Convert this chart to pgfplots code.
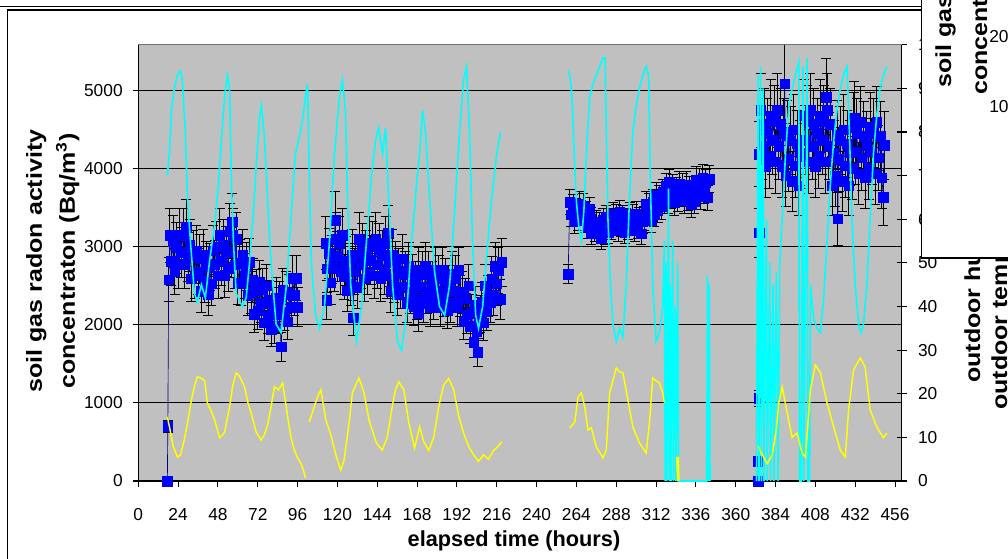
\documentclass[border=0pt]{standalone}
\usepackage{pgfplots}
\usepackage{pgfplotstable}
\pgfplotsset{compat=1.18}
\usepackage{fontspec}
\setmainfont{Liberation Sans}
\usepackage{graphicx}
\definecolor{plotgray}{RGB}{192,192,192}
\definecolor{rnblue}{RGB}{0,0,255}
\definecolor{rnnavy}{RGB}{0,0,128}
\definecolor{hcyan}{RGB}{0,255,255}
\definecolor{tyellow}{RGB}{255,255,0}
\pgfplotsset{
  rn/.style={rnnavy, line width=0.5pt, mark=square*, mark size=3.6pt,
    mark options={draw=rnblue, fill=rnblue, line width=0.3pt}},
  rnerr/.style={draw=none, no markers, forget plot, error bars/.cd, y dir=both, y fixed relative=#1,
    error bar style={black, line width=0.6pt},
    error mark=|,
    error mark options={black, line width=0.6pt, mark size=3.75pt}},
  hum/.style={hcyan, line width=1.2pt, no markers},
  tmp/.style={tyellow, line width=1.1pt, no markers},
}
\newcommand{\tickfont}{\fontsize{13}{15}\selectfont}
\newcommand{\labfont}{\fontsize{16.3}{19}\selectfont\bfseries}

\pgfplotstableread{
x y
17.5 0
17.8 700
18.3 2580
19 3150
20 2820
21 3070
22 2690
23 2990
24 2780
25 3150
26 2930
27 3150
28 2780
29 3250
30 2870
31 3020
32 2590
33 2890
34 2630
35 2950
36 2680
37 2850
38 2430
39 2900
40 2570
41 2770
42 2390
43 2740
44 2530
45 2950
46 2780
47 3000
48 2630
49 3150
50 2820
51 3020
52 2640
53 2940
54 2730
55 3200
56 2930
56.5 3320
57 3150
58 2770
59 3100
60 2540
61 2790
62 2530
63 2900
64 2630
65 2750
66 2380
67 2800
68 2420
69 2570
70 2140
71 2440
72 2180
73 2550
74 2280
75 2450
76 2030
77 2500
78 2120
79 2320
80 1940
81 2240
82 1980
83 2350
84 2130
85 2300
86 1720
87 2450
88 2170
89 2420
90 2040
91 2390
92 2230
93 2600
94 2380
95 2600
96 2230
}\rnA
\pgfplotstableread{
x y
113 3050
113.5 2320
114 2720
115 2920
116 2540
117 2840
118 2730
118.5 3340
119 3100
120 2880
121 3050
122 2680
123 3150
124 2620
125 2820
126 2440
127 2740
128 2530
129 2900
129.5 2090
130 2680
131 2850
132 2480
133 3100
134 2770
135 2970
136 2590
137 2890
138 2680
139 3050
140 2830
141 3000
142 2630
143 3100
144 2770
145 2970
146 2590
147 2890
148 2680
149 3050
150 2630
150.5 3180
151 2800
152 2430
153 2900
154 2570
155 2770
156 2390
157 2690
158 2480
159 2850
160 2480
161 2650
162 2280
163 2750
164 2420
165 2620
166 2240
167 2540
168 2330
168.5 2150
169 2700
170 2480
171 2650
172 2280
173 2750
174 2420
175 2650
176 2230
177 2530
178 2320
179 2700
180 2430
181 2600
182 2230
183 2700
184 2370
185 2570
186 2190
187 2490
188 2280
189 2650
190 2430
191 2600
192 2230
193 2700
194 2370
195 2420
196 2040
197 2340
198 2130
199 2500
200 1980
201 2150
202 1780
203 2250
204 1920
204.5 1650
205 2120
206 2140
207 2290
208 2030
209 2500
210 2170
211 2370
212 2290
213 2590
214 2380
215 2750
216 2530
217 2700
218 2330
219 2800
}\rnB
\pgfplotstableread{
x y
259 2650
260 3575
261 3410
262 3510
263 3320
264 3470
265 3365
266 3550
267 3440
268 3525
269 3340
270 3425
271 3260
272 3480
272.5 3360
273 3170
274 3320
275 3215
276 3320
277 3210
278 3295
279 3110
280 3345
281 3180
282 3380
283 3190
284 3340
285 3235
286 3420
287 3310
288 3395
289 3210
290 3445
291 3280
292 3380
293 3190
294 3340
295 3235
296 3420
297 3310
298 3395
299 3210
300 3425
301 3260
302 3360
303 3170
304 3320
305 3365
306 3550
307 3440
308 3525
309 3340
310 3575
311 3410
312 3660
313 3470
314 3620
315 3515
316 3700
317 3590
318 3775
319 3590
320 3825
321 3660
322 3760
323 3570
324 3720
325 3615
326 3800
327 3690
328 3775
329 3590
330 3795
331 3630
332 3730
333 3540
334 3690
335 3585
336 3860
337 3750
338 3835
339 3650
340 3885
341 3720
342 3820
343 3630
344 3870
}\rnC
\pgfplotstableread{
x y
373.5 0
373.7 256
373.9 1060
374.1 3180
374.3 4190
375 4750
376 4290
377 4570
378 4035
379 4455
380 4160
381 4680
382 4370
383 4610
384 4090
385 4750
386 4290
387 4570
388 4035
389 4455
389.5 5090
390 3910
391 4430
392 4120
393 4360
394 3840
395 4500
396 4040
397 4320
398 3785
399 4205
400 4160
401 4680
402 4370
403 4610
404 4090
405 4750
406 4290
407 4570
408 4035
409 4455
410 4160
411 4680
412 4370
413 4610
414 4090
414.5 4920
415 4750
416 4290
417 4570
418 3785
419 4205
420 3910
421 4430
421.5 3360
422 4120
423 4360
424 3840
425 4500
426 4040
427 4320
428 3785
429 4205
430 4010
431 4530
431.5 4650
432 4220
433 4460
434 3940
435 4600
436 4140
437 4420
438 3885
439 4305
440 4010
441 4530
442 4220
443 4460
444 3940
445 4600
446 4140
447 4420
448 3885
449 3640
449.5 4300
}\rnD

\begin{document}
\begin{tikzpicture}
\path[use as bounding box] (0,0) rectangle (756pt,418.5pt);
\begin{scope}
\clip (0,0) rectangle (756pt,418.5pt);
\begin{scope}[x=0.75pt,y=0.75pt]
\draw[black, line width=1.1pt] (0,551.5) -- (1012,551.5);
\draw[black, line width=0.9pt] (7.3,-5) -- (7.3,548) -- (1012,548);
\end{scope}

\begin{axis}[
  at={(103.725pt,57.75pt)}, anchor=south west, scale only axis,
  width=572.55pt, height=327.2pt,
  xmin=0, xmax=460, ymin=0, ymax=5590,
  axis background/.style={fill=plotgray},
  axis lines*=left, axis line style={black, line width=0.9pt},
  xtick={0,24,...,456}, ytick={0,1000,...,5000},
  tick align=outside, major tick length=4.2pt,
  tick style={black, line width=0.8pt},
  ymajorgrids, grid style={black, line width=0.8pt},
  ticklabel style={font=\tickfont},
  xticklabel style={yshift=-13pt},
  yticklabel style={xshift=-4pt},
  /pgf/number format/assume math mode=true,
  /pgf/number format/set thousands separator={},
]
\addplot[rnerr=0.11] table {\rnA};
\addplot[rnerr=0.11] table {\rnB};
\addplot[rnerr=0.045] table {\rnC};
\addplot[rnerr=0.10] table {\rnD};
\addplot[rn] table {\rnA};
\addplot[rn] table {\rnB};
\addplot[rn] table {\rnC};
\addplot[rn] table {\rnD};
\end{axis}

\begin{axis}[
  at={(103.725pt,57.75pt)}, anchor=south west, scale only axis,
  width=572.55pt, height=327.2pt,
  xmin=0, xmax=460, ymin=0, ymax=100,
  axis x line=none, axis y line*=right,
  axis line style={black, line width=1pt},
  ytick={0,10,...,100},
  tick align=center, major tick length=7.5pt,
  tick style={black, line width=0.8pt},
  ticklabel style={font=\tickfont},
  yticklabel style={xshift=5pt},
  /pgf/number format/assume math mode=true,
]
% outdoor humidity
\addplot[hum] table {
x y
17.5 70
18.7 75
20 85
21.7 90
23.5 93
25.3 94
26.5 92
28.3 80
29.6 65
31.4 55
33.8 43
35.6 41
38 45
40.4 42
42.8 50
44.6 55
46.4 60
48.3 68
50 78
52 88
53.7 93
55 90
56 70
57.3 55
59 43
62.7 40
65 42
67 50
69.4 62
71 72
73 83
74.2 86
76 79
77.8 65
80 50
83 36
86 34
89.3 45
92.3 62
94.7 75
97.7 80
99 83
100.7 88
102 91
103 70
104.3 50
106.8 38
109.2 35
112.2 40
115.2 55
118.2 75
121.2 88
123 92
124.8 85
126 65
128 45
131.5 32
134.5 40
137.5 55
140.5 70
143 78
144.8 81
147.2 75
149 81
150.8 65
153.2 45
156.2 32
158.6 30
161.6 38
164.7 55
167.7 68
169.5 75
171.3 85
173 80
175.5 65
178.5 48
181.5 40
184.6 38
187.6 45
190.6 62
193.6 80
196 92
197.8 95
199.6 80
201.4 55
203.3 38
205 35
207.5 40
210 52
213 65
216 75
218.3 80
};
\addplot[hum] table {
x y
259 94
260 93
261 90
262 82
263 72
264 64
265.5 58
267 55
268.5 62
270 75
272 88
274 91
276 93
278 95
280 97
281.3 97
282 80
283 60
284.5 45
286 36
288 32
290 35
292 33
294 45
296 65
298 80
300 86
302 90
304 93
306 95
307.5 93
308.5 70
310 45
312 32
314 34
316 40
317 55
317.5 0
318 50
318.5 0
319.5 67
320 0
320.5 45
321 0
322 55
322.5 0
323.5 40
324 0
325 50
325.5 0
330 0
335 0
340 0
342.5 0
343 47
343.5 0
344 45
344.5 0
};
\addplot[hum] table {
x y
372.5 0
373.5 93
374 0
375 95
375.5 0
376.5 90
377 0
378.5 60
379 0
380.5 50
381 0
382.5 45
383 0
384.5 48
385.5 0
386.5 50
388 60
390 75
392 86
394 90
396 93
398 96
398.5 0
399.5 0
400.5 95
401 0
403 97
403.5 0
404.5 0
405 45
407 37
409 35
411 34
413 42
415 55
417 68
419 78
421 85
423 90
425 93
427 95
428.5 80
430 60
432 45
434 36
435.5 34
437 36
439 45
441 60
443 75
445 84
447 90
449 93
451 95
};
% outdoor temperature
\addplot[tmp] table {
x y
17.5 14.7
19 12
21 8
23.6 5.5
25.5 6
27.7 9.4
30 14
32 18.6
34 22
35.6 23.9
38 23.5
40 23
41.6 17.9
44 16
46 14
49 9.9
50.5 10.5
52 11.2
55 17
57 22
59 24.8
61 24
64 21.6
66 18
68 15.6
71 11.2
74 9.4
76 10.6
78 13
80 17
82 21.6
84.5 20.9
87 22.5
90 14.7
92 10
94 7.1
96 5.3
98 4
99.5 2.5
100.7 0.7
};
\addplot[tmp] table {
x y
103 13.5
106 17
108 19.3
110 20.9
113 14
116 10.6
119 6
122 2.5
124 4.8
127 13.3
129 20.2
131 22
133 23.6
136 20.2
139 14
143.5 8.7
147 7.1
150 10
153 17
155 21
157 22.7
160 20.9
163 13.3
166.5 7.6
169.5 12.4
172 9
175 7
178 10
181 17
184 22
187 23.5
190 21
193 15
196 11
199 8
202 6
205 4.5
208 6
211 5
214 7
217 8
219 9
};
\addplot[tmp] table {
x y
260 12.2
263 13.5
265 19.3
267 20.2
269 17
271 11.7
273 12.2
276 7.8
280 5.3
282 7.1
284 20.2
286 23
288 25.9
290 25
292 24.8
295 18.6
298 12.4
302 8.7
306 6.4
308 13.3
310 23.6
312 23
314 22.5
316 20.2
317 18
};
\addplot[tmp] table {
x y
324.5 5.5
325 0
325.4 5.5
325.8 0
};
\addplot[tmp] table {
x y
373.5 8
376 6
379 4
382 6
384.5 12
386 18
388 21.6
391 15.6
394 10
397 11
400 6.4
402 5.5
405 20.9
408 26.6
411 24.8
415 17.9
419 12.4
423 7.1
426 5.5
428 16.3
431 25.5
435 28.2
438 26.1
441 16.3
445 12.4
449 9.9
451 11
};
\end{axis}

\begin{scope}[x=0.75pt,y=0.75pt]
% top border of plot area
\draw[black!55, line width=0.9pt] (138.3,513.3) -- (901.7,513.3);
% axis titles
\node[anchor=base, font=\labfont, inner sep=0pt] at (514,12) {elapsed time (hours)};
\node[rotate=90, anchor=base, font=\labfont, inner sep=0pt] at (42,297) {\scalebox{1.15}[1]{soil gas radon activity}};
\node[rotate=90, anchor=base, font=\labfont, inner sep=0pt] at (75,297) {\scalebox{1.15}[1]{concentraton (Bq/m\textsuperscript{3})}};
\node[rotate=90, anchor=base west, font=\labfont, inner sep=0pt] at (980,175) {\scalebox{1.15}[1]{outdoor humidity (\%)}};
\node[rotate=90, anchor=base west, font=\labfont, inner sep=0pt] at (1007,148) {\scalebox{1.15}[1]{outdoor temperature (°C)}};
% overlapping inset chart (top right)
\fill[white] (921.5,300) rectangle (1015,565);
\draw[black, line width=0.9pt] (921.5,565) -- (921.5,300) -- (1015,300);
\node[rotate=90, anchor=base west, font=\labfont, inner sep=0pt] at (951,470) {\scalebox{1.15}[1]{soil gas radon activity}};
\node[rotate=90, anchor=base west, font=\labfont, inner sep=0pt] at (987,463) {\scalebox{1.15}[1]{concentration (Bq/m\textsuperscript{3})}};
\node[anchor=base west, font=\tickfont, inner sep=0pt] at (989,515) {2000};
\node[anchor=base west, font=\tickfont, inner sep=0pt] at (989,445) {1000};
\end{scope}
\end{scope}
\end{tikzpicture}
\end{document}
